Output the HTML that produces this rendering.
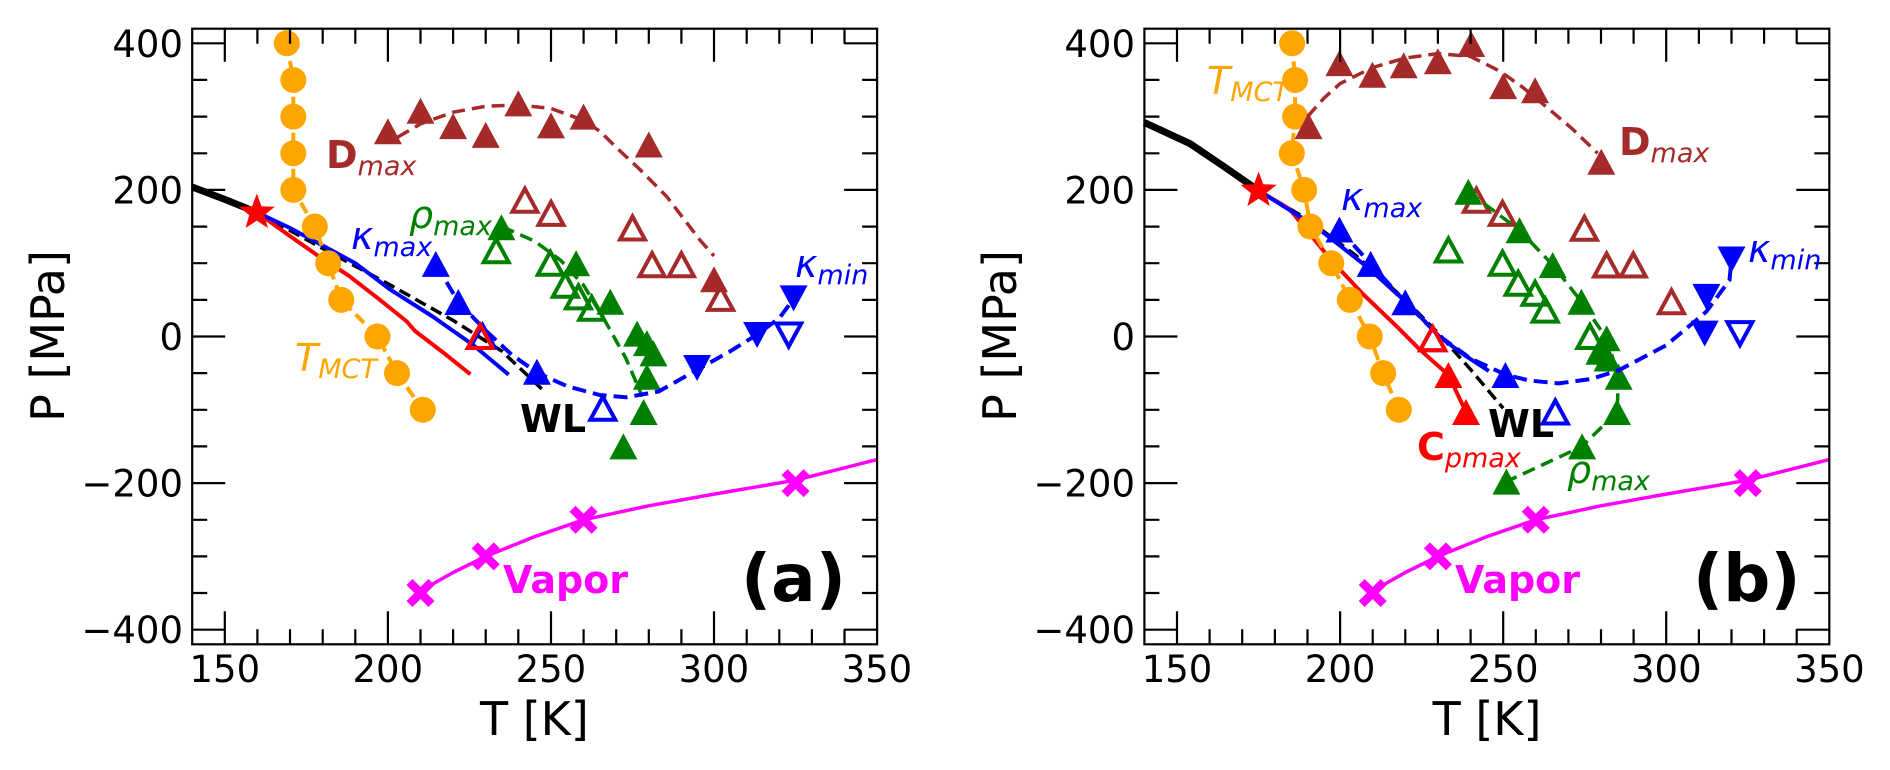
<!DOCTYPE html>
<html><head><meta charset="utf-8">
<style>
html,body{margin:0;padding:0;background:#fff;}
svg{display:block;font-family:"DejaVu Sans","Liberation Sans",sans-serif;}
</style></head>
<body>
<svg id="s" width="1890" height="770" viewBox="0 0 1890 770" xmlns="http://www.w3.org/2000/svg">
<rect width="1890" height="770" fill="#fff"/>
<g id="plots"></g>
<g font-size="37" fill="#000">
<text x="183" y="56.8" text-anchor="end">400</text>
<text x="183" y="203.5" text-anchor="end">200</text>
<text x="183" y="350" text-anchor="end">0</text>
<text x="183" y="496.5" text-anchor="end">−200</text>
<text x="183" y="643" text-anchor="end">−400</text>
<text x="224.8" y="682" text-anchor="middle">150</text>
<text x="387.8" y="682" text-anchor="middle">200</text>
<text x="550.9" y="682" text-anchor="middle">250</text>
<text x="713.9" y="682" text-anchor="middle">300</text>
<text x="876.9" y="682" text-anchor="middle">350</text>
<text x="1135" y="56.8" text-anchor="end">400</text>
<text x="1135" y="203.5" text-anchor="end">200</text>
<text x="1135" y="350" text-anchor="end">0</text>
<text x="1135" y="496.5" text-anchor="end">−200</text>
<text x="1135" y="643" text-anchor="end">−400</text>
<text x="1177" y="682" text-anchor="middle">150</text>
<text x="1340.1" y="682" text-anchor="middle">200</text>
<text x="1503.2" y="682" text-anchor="middle">250</text>
<text x="1666.3" y="682" text-anchor="middle">300</text>
<text x="1829.4" y="682" text-anchor="middle">350</text>
</g>
<g font-size="46" fill="#000">
<text x="534.4" y="735" text-anchor="middle">T [K]</text>
<text x="1487" y="735" text-anchor="middle">T [K]</text>
<text transform="translate(64,336) rotate(-90)" text-anchor="middle">P [MPa]</text>
<text transform="translate(1016,336) rotate(-90)" text-anchor="middle">P [MPa]</text>
</g>
<g font-size="38">
<text x="326" y="168" fill="#a52a2a"><tspan font-weight="bold">D</tspan><tspan font-style="italic" font-size="27" dy="7">max</tspan></text>
<text x="409" y="228" fill="#008000"><tspan font-style="italic">ρ</tspan><tspan font-style="italic" font-size="27" dy="7">max</tspan></text>
<text x="351" y="249" fill="#0000ff"><tspan font-style="italic">κ</tspan><tspan font-style="italic" font-size="27" dy="7">max</tspan></text>
<text x="295" y="371" fill="#ffa500"><tspan font-style="italic">T</tspan><tspan font-style="italic" font-size="27" dy="7">MCT</tspan></text>
<text x="520" y="432" fill="#000" font-weight="bold">WL</text>
<text x="795" y="277" fill="#0000ff"><tspan font-style="italic">κ</tspan><tspan font-style="italic" font-size="27" dy="7">min</tspan></text>
<text x="503" y="593" fill="#ff00ff" font-weight="bold">Vapor</text>
<text x="741" y="601" fill="#000" font-weight="bold" font-size="66">(a)</text>
</g>
<g font-size="38">
<text x="1207" y="94" fill="#ffa500"><tspan font-style="italic">T</tspan><tspan font-style="italic" font-size="27" dy="7">MCT</tspan></text>
<text x="1341" y="210" fill="#0000ff"><tspan font-style="italic">κ</tspan><tspan font-style="italic" font-size="27" dy="7">max</tspan></text>
<text x="1619" y="155" fill="#a52a2a"><tspan font-weight="bold">D</tspan><tspan font-style="italic" font-size="27" dy="7">max</tspan></text>
<text x="1748" y="262" fill="#0000ff"><tspan font-style="italic">κ</tspan><tspan font-style="italic" font-size="27" dy="7">min</tspan></text>
<text x="1488" y="437" fill="#000" font-weight="bold">WL</text>
<text x="1417" y="460" fill="#ff0000"><tspan font-weight="bold">C</tspan><tspan font-style="italic" font-size="27" dy="7">pmax</tspan></text>
<text x="1567" y="483" fill="#008000"><tspan font-style="italic">ρ</tspan><tspan font-style="italic" font-size="27" dy="7">max</tspan></text>
<text x="1455" y="593" fill="#ff00ff" font-weight="bold">Vapor</text>
<text x="1693" y="601" fill="#000" font-weight="bold" font-size="66">(b)</text>
</g>
</svg>
<script>
(function(){
var NS="http://www.w3.org/2000/svg";
var root=document.getElementById("plots");
var TOP=28.7,BOT=644.3,KX=3.2615,KY=0.733,Y0=336.5;
function el(n,a){var e=document.createElementNS(NS,n);for(var k in a)e.setAttribute(k,a[k]);root.appendChild(e);return e;}
function panel(x0,D){
 var X=function(t){return x0+(t-140)*KX;}, Y=function(p){return Y0-p*KY;};
 var R=X(350);
 function line(pts,c,w,dash){
   var d=pts.map(function(p,i){return (i?"L":"M")+X(p[0]).toFixed(1)+" "+Y(p[1]).toFixed(1);}).join(" ");
   var a={d:d,fill:"none",stroke:c,"stroke-width":w,"stroke-linejoin":"round","stroke-linecap":"butt"};
   if(dash)a["stroke-dasharray"]=dash;
   el("path",a);
 }
 function tri(p,c,filled,down){
   var x=X(p[0]),y=Y(p[1]),sx=filled?14:12.5,sy=filled?13:11.5,k=down?-1:1;
   var pts=[x,y-k*sy,x-sx,y+k*sy,x+sx,y+k*sy].map(function(v){return v.toFixed(1);});
   var pt=pts[0]+","+pts[1]+" "+pts[2]+","+pts[3]+" "+pts[4]+","+pts[5];
   if(filled) el("polygon",{points:pt,fill:c});
   else el("polygon",{points:pt,fill:"none",stroke:c,"stroke-width":4});
 }
 function circ(p,c){el("circle",{cx:X(p[0]),cy:Y(p[1]),r:13,fill:c});}
 function cross(p,c){
   var x=X(p[0]),y=Y(p[1]);
   el("path",{d:"M"+(x-8)+" "+(y-8)+"L"+(x+8)+" "+(y+8)+"M"+(x+8)+" "+(y-8)+"L"+(x-8)+" "+(y+8),stroke:c,"stroke-width":8.5,"stroke-linecap":"square",fill:"none"});
 }
 function star(p,c){
   var x=X(p[0]),y=Y(p[1]),s="";
   for(var i=0;i<10;i++){var r=i%2?8:19,a=-Math.PI/2+i*Math.PI/5;s+=(x+r*Math.cos(a)).toFixed(1)+","+(y+r*Math.sin(a)).toFixed(1)+" ";}
   el("polygon",{points:s,fill:c});
 }
 line(D.vapor,"#ff00ff",3.5);
 D.vx.forEach(function(p){cross(p,"#ff00ff");});
 line(D.blk,"#000",7);
 line(D.blkd,"#000",3.5,"12,6");
 line(D.red,"#ff0000",4);
 line(D.blue,"#0000ff",4);
 line(D.tm,"#ffa500",4,"12,6");
 D.tm.forEach(function(p){circ(p,"#ffa500");});
 line(D.dcur,"#a52a2a",3.5,"13,7");
 D.df.forEach(function(p){tri(p,"#a52a2a",true);});
 D.dopen.forEach(function(p){tri(p,"#a52a2a",false);});
 line(D.gcur,"#008000",3.5,"13,7");
 D.gf.forEach(function(p){tri(p,"#008000",true);});
 D.gopen.forEach(function(p){tri(p,"#008000",false);});
 line(D.kcur,"#0000ff",4,"14,7");
 D.kf.forEach(function(p){tri(p,"#0000ff",true);});
 D.kopen.forEach(function(p){tri(p,"#0000ff",false);});
 D.kminf.forEach(function(p){tri(p,"#0000ff",true,true);});
 D.kmino.forEach(function(p){tri(p,"#0000ff",false,true);});
 (D.rf||[]).forEach(function(p){tri(p,"#ff0000",true);});
 D.ro.forEach(function(p){tri(p,"#ff0000",false);});
 star(D.star,"#ff0000");
 el("rect",{x:x0,y:TOP,width:R-x0,height:BOT-TOP,fill:"none",stroke:"#000","stroke-width":2.2});
 var d="";
 for(var t=150;t<350;t+=10){var xx=X(t).toFixed(1),L=(t%50==0)?33:15;d+="M"+xx+" "+BOT+"v-"+L+"M"+xx+" "+TOP+"v"+L;}
 for(var p=-400;p<=400;p+=50){var yy=Y(p).toFixed(1),L2=(p%200==0)?33:15;d+="M"+x0+" "+yy+"h"+L2+"M"+R+" "+yy+"h-"+L2;}
 el("path",{d:d,stroke:"#000","stroke-width":2.2,fill:"none"});
}
var vapor=[[210,-347],[220,-322],[230,-300],[245,-273],[260,-250],[280,-231],[300,-215],[325,-196],[350,-168]];
var vx=[[210,-350],[230,-300],[260,-250],[325,-200]];
panel(192.2,{
 vapor:vapor,vx:vx,
 blk:[[140,204],[150,187],[160,169]],
 blkd:[[160,169],[180,120],[200,72],[220,22],[235,-20],[248,-75]],
 red:[[160,169],[169,140],[178,112],[188,83],[197,52],[205.8,20.5],[208.3,7.5],[217,-22],[225.3,-51.6]],
 blue:[[160,169],[170,148],[181.7,120],[190,100],[200.7,64],[213.5,28],[226,-11],[237,-52]],
 tm:[[169,400],[171,350],[171,300],[171,250],[171,200],[177.6,150],[181.7,100],[185.7,50],[196.8,0],[202.8,-50],[210.7,-100]],
 dcur:[[203,272],[210,290],[220,306],[230,314],[240,316],[250,311],[260,295],[265,280],[270,258],[277,229],[285.5,191],[295.8,131],[300,110]],
 df:[[200,280],[210,308],[220,287],[230,275],[240,318],[250,288],[260,300],[280,262],[300,78]],
 dopen:[[242,186],[250,168],[275,148],[281,98],[290,98],[302,52]],
 gcur:[[235,150],[245,130],[253,104],[260,70],[267,18],[273,-30],[278,-82]],
 gf:[[234.8,149],[257.7,100],[268.2,47.5],[276.4,4],[279.4,-9],[281.4,-23],[279.4,-55],[278.4,-103],[272.2,-150]],
 gopen:[[233.2,117],[249.8,100],[254.4,70],[258.4,54],[262.5,38.5]],
 kcur:[[214.7,99],[221.6,47],[230,8],[238,-25],[246,-50],[255,-68],[265,-80],[273,-83],[283,-75],[295,-45],[305,-20],[313,2],[320,25],[325,55]],
 kf:[[214.7,99],[221.6,47],[245.7,-48]],
 kopen:[[229,0],[265.9,-98]],
 kminf:[[294.8,-43],[313.2,2],[324.4,52]],
 kmino:[[322.9,2]],
 ro:[[228.3,0]],
 star:[159.8,169]
});
panel(1144.4,{
 vapor:vapor,vx:vx,
 blk:[[140,292],[154,263],[165,230],[175,199]],
 blkd:[[175,199],[190,160],[205,110],[220,50],[230,5],[240,-45],[250,-98]],
 red:[[175,199],[184.5,174],[197.3,104],[207,58],[217.6,12.7],[224,-16],[233.2,-52.5],[238.6,-103]],
 blue:[[175,199],[192.2,151],[208.7,93.5],[221.5,41.6],[230.4,0],[238,-25],[245.6,-47]],
 tm:[[185.3,400],[186.2,350],[186.2,300],[185.2,250],[189,200],[190.9,150],[197.3,100],[203,50],[209.1,0],[213.2,-50],[218,-100]],
 dcur:[[190,300],[195,325],[200,345],[210,367],[220,380],[230,386],[240,382],[249,362],[256,340],[263,314],[271,284],[279,250]],
 df:[[190.3,287],[199.8,373],[209.9,357],[219.5,370],[230,375.5],[240.2,399],[250,341.6],[259.8,336],[280.1,238.5]],
 dopen:[[241.8,186],[249.8,168],[274.9,147.6],[281.7,97.5],[289.9,97.5],[301.6,47.5]],
 gcur:[[239.3,197.5],[255,145],[265.2,97.5],[274,47.5],[281.7,-2.5],[285.4,-55],[284.9,-103],[274.2,-150],[251,-198]],
 gf:[[239.3,197.5],[255,145],[265.2,97.5],[274,47.5],[281.7,-2.5],[280,-16],[282,-30],[285.4,-55],[284.9,-103],[274.2,-150],[251,-198]],
 gopen:[[233.2,118],[249.8,100],[254.6,72.6],[259.8,59],[262.9,36],[276.6,0],[280.1,-20]],
 kcur:[[199.8,146],[209.4,99],[220,47],[230,2],[240,-30],[250.7,-52],[258,-60],[267,-64],[277,-58],[285.5,-46],[300,-12],[312.3,34],[319.4,77],[320,105]],
 kf:[[199.8,146],[209.4,99],[220,46.6],[250.7,-52.5]],
 kopen:[[228.4,-3],[266,-103]],
 kminf:[[320,105],[312.3,54],[311.8,4]],
 kmino:[[322.6,4]],
 rf:[[233.2,-52.5],[238.6,-103]],
 ro:[[228.4,-3]],
 star:[175,199]
});
})();
</script>
</body></html>
